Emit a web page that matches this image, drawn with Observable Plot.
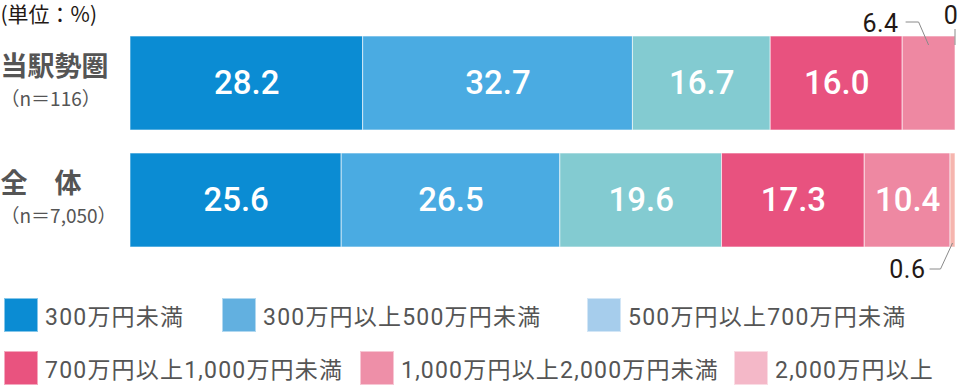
<!DOCTYPE html>
<html><head><meta charset="utf-8">
<script src="https://cdn.jsdelivr.net/npm/d3@7"></script>
<script src="https://cdn.jsdelivr.net/npm/@observablehq/plot@0.6"></script>
<style>
body{margin:0;background:#fff;font-family:Roboto,"Noto Sans CJK JP",sans-serif;}
#chart svg{display:block;}
#legend{position:relative;width:960px;height:95px;}
.item{position:absolute;display:flex;align-items:center;height:34px;font-size:23px;letter-spacing:1.2px;color:#555;white-space:nowrap;}
.sw{width:34px;height:34px;box-sizing:border-box;margin-right:7px;border:1px solid rgba(255,255,255,0.5);}
</style></head><body><div id="chart"></div><div id="legend"></div>
<script>
const groups = ["当駅勢圏", "全　体"];
const sampleSizes = ["（n＝116）", "（n＝7,050）"];
const categories = ["300万円未満", "300万円以上500万円未満", "500万円以上700万円未満", "700万円以上1,000万円未満", "1,000万円以上2,000万円未満", "2,000万円以上"];
const valuesStation = [28.2, 32.7, 16.7, 16.0, 6.4, 0];
const valuesAll = [25.6, 26.5, 19.6, 17.3, 10.4, 0.6];
const unitLabel = "(単位：%)";

const barColors = ["#0b8cd3", "#4aabe2", "#83cbd1", "#e8527f", "#ee88a2", "#f6b5ae"];
const legendColors = ["#0b8cd3", "#62b0e0", "#a6cdec", "#e9537f", "#ee8fa8", "#f4b8c8"];

const seriesByGroup = [valuesStation, valuesAll];
const rows = groups.flatMap((g, gi) => categories.map((c, ci) => ({group: g, gi, cat: c, value: seriesByGroup[gi][ci]})));

// small segments labelled outside the bar
const small = [];
groups.forEach((g, gi) => {
  let acc = 0;
  seriesByGroup[gi].forEach((v, ci) => {
    if (v < 10) small.push({group: g, gi, value: v, mid: acc + v / 2});
    acc += v;
  });
});
const fmt = v => v === 0 ? "0" : v.toFixed(1);

function smallLabels(index, scales) {
  const {x, y} = scales;
  const bw = y.bandwidth();
  const g = d3.create("svg:g");
  for (const s of small) {
    const cx = x(s.mid), top = y(s.group), bottom = top + bw;
    let path, tx, ty, anchor;
    if (s.gi === 0) {
      if (s.value === 0) { path = `M${cx},${top + 9}V${top - 7}`; tx = cx - 4; ty = top - 12; anchor = "middle"; }
      else { path = `M${cx},${top + 9}L${cx - 10},${top - 14}H${cx - 23}`; tx = cx - 30; ty = top - 4; anchor = "end"; }
    } else {
      path = `M${cx},${bottom - 4}L${cx - 12},${bottom + 22}H${cx - 23}`; tx = cx - 27; ty = bottom + 31; anchor = "end";
    }
    g.append("path").attr("d", path).attr("fill", "none").attr("stroke", "#8a8a8a").attr("stroke-width", 1);
    g.append("text").attr("x", tx).attr("y", ty).attr("text-anchor", anchor)
      .attr("font-family", "Roboto, sans-serif").attr("font-size", 25).attr("fill", "#231815")
      .attr("letter-spacing", "0.5px").text(fmt(s.value));
  }
  return g.node();
}

const chart = Plot.plot({
  width: 960, height: 290,
  marginLeft: 130, marginRight: 5, marginTop: 36, marginBottom: 43,
  x: {domain: [0, 100], axis: null},
  y: {domain: groups, axis: null, paddingInner: 0.2, paddingOuter: 0},
  color: {domain: categories, range: barColors},
  style: {fontFamily: "Roboto, 'Noto Sans CJK JP', sans-serif", background: "#fff", overflow: "visible"},
  marks: [
    Plot.barX(rows, Plot.stackX({x: "value", y: "group", fill: "cat", stroke: "white", strokeWidth: 1, strokeOpacity: 0.6, filter: d => d.value > 0})),
    Plot.text(rows, Plot.stackX({x: "value", y: "group", z: "cat", text: d => d.value >= 10 ? fmt(d.value) : null, fill: "white", fontSize: 33, fontWeight: 500})),
    smallLabels,
    Plot.text(groups, {y: d => d, text: d => d, frameAnchor: "left", dx: -130, dy: -16, textAnchor: "start", fontSize: 27, fontWeight: 700, fill: "#555", fontFamily: "'Noto Sans CJK JP', sans-serif"}),
    Plot.text(groups, {y: d => d, text: (d, i) => sampleSizes[i], frameAnchor: "left", dx: -130, dy: 16, textAnchor: "start", fontSize: 19, fill: "#555", fontFamily: "'Noto Sans CJK JP', sans-serif"}),
    Plot.text([unitLabel], {text: d => d, frameAnchor: "top-left", lineAnchor: "middle", dx: -130, dy: -21, textAnchor: "start", fontSize: 21, fill: "#231815", fontFamily: "'Noto Sans CJK JP', sans-serif"})
  ]
});
document.getElementById("chart").append(chart);

const legend = d3.select("#legend");
const lefts = [4, 222, 587, 4, 360, 734];
const tops = [8, 8, 8, 61, 61, 61];
categories.forEach((c, i) => {
  const item = legend.append("div").attr("class", "item").style("left", lefts[i] + "px").style("top", tops[i] + "px");
  item.append("div").attr("class", "sw").style("background", legendColors[i]);
  item.append("span").text(c);
});
</script></body></html>
